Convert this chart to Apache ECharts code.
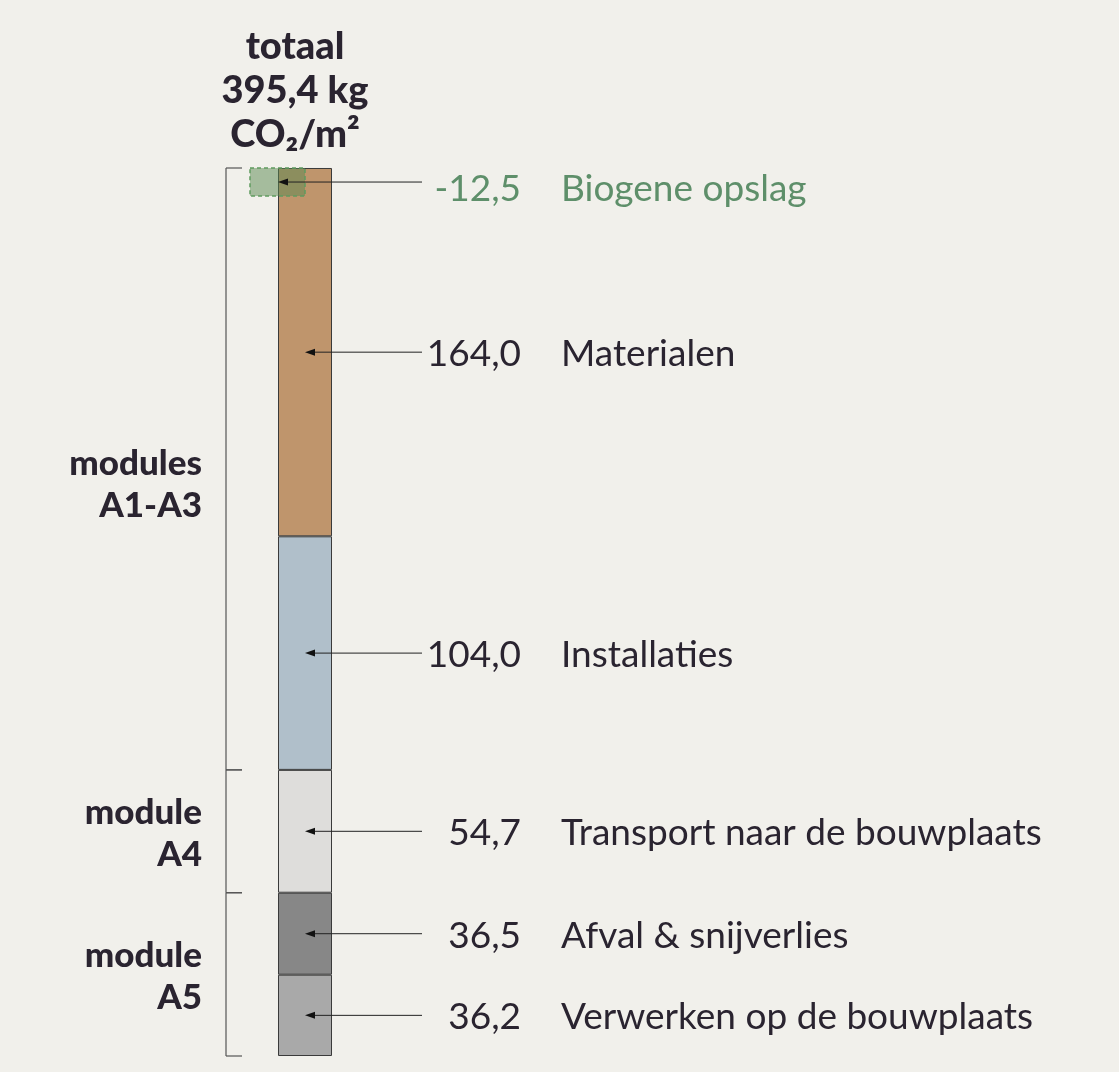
<!DOCTYPE html>
<html>
<head>
<meta charset="utf-8">
<script src="https://cdn.jsdelivr.net/npm/echarts@6/dist/echarts.min.js"></script>
<style>
html, body { margin: 0; padding: 0; background: #f1f0eb; }
#chart { width: 1119px; height: 1072px; }
</style>
</head>
<body>
<div id="chart"></div>
<script>
// kg CO2/m2, van onder naar boven gestapeld
var categories = ['Verwerken op de bouwplaats', 'Afval & snijverlies', 'Transport naar de bouwplaats', 'Installaties', 'Materialen'];
var values = [36.2, 36.5, 54.7, 104.0, 164.0];
var biogeneLabel = 'Biogene opslag';
var biogeneValue = -12.5;
var moduleLabels = ['module\nA5', 'module\nA4', 'modules\nA1-A3'];
var moduleSizes = [2, 1, 2]; // aantal segmenten per module
var totalLabel = 'totaal\n395,4 kg\nCO₂/m²';

var colors = ['#a9a9a9', '#878787', '#dedddb', '#b0bfca', '#bf956c'];
var textColor = '#2a2430';
var green = '#5e8f6a';
var labelFont = '37px Lato';

function fmt(v) { return v.toFixed(1).replace('.', ','); }

// onder- en bovengrens van elk segment
var bounds = [];
var acc = 0;
values.forEach(function (v) { bounds.push([acc, acc + v]); acc += v; });
var total = acc;

var moduleBounds = [];
var k = 0;
moduleSizes.forEach(function (n) {
    moduleBounds.push([bounds[k][0], bounds[k + n - 1][1]]);
    k += n;
});

function arrow(x, y) {
    return {
        type: 'polygon',
        shape: { points: [[x, y], [x + 10, y - 3.5], [x + 10, y + 3.5]] },
        style: { fill: '#111' }
    };
}

var series = values.map(function (v, i) {
    return {
        name: categories[i],
        type: 'bar',
        stack: 'totaal',
        barWidth: 54,
        data: [v],
        itemStyle: { color: colors[i], borderColor: '#3a3a3a', borderWidth: 1 }
    };
});

// pijlen met waarde en omschrijving
series.push({
    type: 'custom',
    coordinateSystem: 'cartesian2d',
    data: bounds.map(function (b, i) { return [0, b[0], b[1], i]; }),
    encode: { x: 0, y: [1, 2] },
    renderItem: function (params, api) {
        var i = api.value(3);
        var p = api.coord([0, (api.value(1) + api.value(2)) / 2]);
        var x = p[0], y = p[1];
        return {
            type: 'group',
            children: [
                { type: 'line', shape: { x1: x + 6, y1: y, x2: x + 117, y2: y }, style: { stroke: '#222', lineWidth: 1 } },
                arrow(x, y),
                { type: 'text', style: { text: fmt(values[i]), x: x + 216, y: y + 2, align: 'right', verticalAlign: 'middle', font: labelFont, fill: textColor } },
                { type: 'text', style: { text: categories[i], x: x + 256, y: y + 2, align: 'left', verticalAlign: 'middle', font: labelFont, fill: textColor } }
            ]
        };
    },
    z: 5
});

// biogene opslag: gestippeld vak bovenaan
series.push({
    type: 'custom',
    coordinateSystem: 'cartesian2d',
    data: [[0, total + biogeneValue, total]],
    encode: { x: 0, y: [1, 2] },
    renderItem: function (params, api) {
        var top = api.coord([0, api.value(2)]);
        var bot = api.coord([0, api.value(1)]);
        var cx = top[0];
        var y = (top[1] + bot[1]) / 2;
        return {
            type: 'group',
            children: [
                { type: 'rect', shape: { x: cx - 55, y: top[1], width: 55, height: bot[1] - top[1] },
                  style: { fill: 'rgba(90,135,80,0.5)', stroke: '#5f9a5f', lineWidth: 1.5, lineDash: [4, 3] } },
                { type: 'line', shape: { x1: cx - 21, y1: y, x2: cx + 117, y2: y }, style: { stroke: '#222', lineWidth: 1 } },
                arrow(cx - 27, y),
                { type: 'text', style: { text: fmt(biogeneValue), x: cx + 216, y: y + 7, align: 'right', verticalAlign: 'middle', font: labelFont, fill: green } },
                { type: 'text', style: { text: biogeneLabel, x: cx + 256, y: y + 7, align: 'left', verticalAlign: 'middle', font: labelFont, fill: green } }
            ]
        };
    },
    z: 6
});

// haken met modulenamen links
series.push({
    type: 'custom',
    coordinateSystem: 'cartesian2d',
    data: moduleBounds.map(function (b, i) { return [0, b[0], b[1], i]; }),
    encode: { x: 0, y: [1, 2] },
    renderItem: function (params, api) {
        var i = api.value(3);
        var lo = api.coord([0, api.value(1)]);
        var hi = api.coord([0, api.value(2)]);
        var x = lo[0] - 79;
        // het bovenste label staat iets onder het midden van de haak
        var dy = i === moduleLabels.length - 1 ? 16 : 2;
        return {
            type: 'group',
            children: [
                { type: 'line', shape: { x1: x, y1: hi[1], x2: x, y2: lo[1] }, style: { stroke: '#555', lineWidth: 1.2 } },
                { type: 'line', shape: { x1: x, y1: hi[1], x2: x + 16, y2: hi[1] }, style: { stroke: '#555', lineWidth: 1.2 } },
                { type: 'line', shape: { x1: x, y1: lo[1], x2: x + 16, y2: lo[1] }, style: { stroke: '#555', lineWidth: 1.2 } },
                { type: 'text', style: { text: moduleLabels[i], x: x - 24, y: (lo[1] + hi[1]) / 2 + dy, align: 'right', verticalAlign: 'middle',
                  font: '900 35px Lato', lineHeight: 42, fill: textColor } }
            ]
        };
    },
    z: 4
});

var chart = echarts.init(document.getElementById('chart'));
chart.setOption({
    backgroundColor: '#f1f0eb',
    animation: false,
    title: {
        text: totalLabel,
        left: 290,
        top: 20,
        textAlign: 'center',
        textStyle: { fontFamily: 'Lato', fontSize: 38, fontWeight: 900, lineHeight: 44, color: textColor }
    },
    grid: { left: 250, width: 110, top: 168, bottom: 16 },
    xAxis: { type: 'category', data: ['totaal'], show: false },
    yAxis: { type: 'value', min: 0, max: total, show: false },
    series: series
});
</script>
</body>
</html>
